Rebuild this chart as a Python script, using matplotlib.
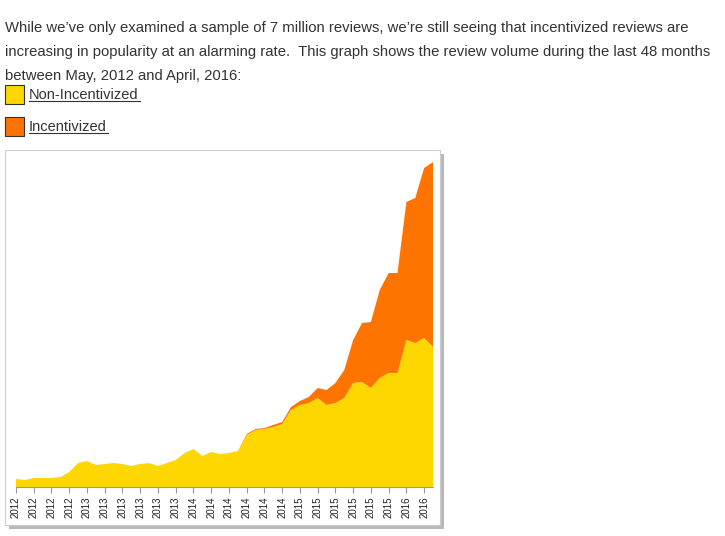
import matplotlib
matplotlib.use("Agg")
import matplotlib.pyplot as plt
from matplotlib.patches import Rectangle

months = list(range(48))
tick_labels = (["2012"] * 4 + ["2013"] * 6 + ["2014"] * 6 + ["2015"] * 6 + ["2016"] * 2)
non_incentivized = [8, 7, 9, 9, 9, 10, 15, 24, 26, 22, 23, 24, 23, 21, 23, 24,
                    21, 24, 27, 34, 38, 31, 35, 33, 34, 36, 52, 57, 58, 60, 63, 77,
                    82, 84, 89, 82, 84, 89, 104, 105, 99, 109, 114, 114, 147, 144,
                    149, 140]
incentivized = [0] * 26 + [1, 1, 1, 2, 2, 3, 4, 6, 10, 15, 20, 28, 43, 59, 66, 88,
                           100, 100, 138, 145, 170, 185]

W, H = 725, 536
fig = plt.figure(figsize=(W / 100, H / 100), dpi=100)
font = "Liberation Sans"

lines = ["While we\u2019ve only examined a sample of 7 million reviews, we\u2019re still seeing that incentivized reviews are",
         "increasing in popularity at an alarming rate.  This graph shows the review volume during the last 48 months",
         "between May, 2012 and April, 2016:"]
for k, t in enumerate(lines):
    fig.text(5 / W, 1 - (32 + 24 * k) / H, t, fontsize=10.7, family=font, color="#333333", va="baseline")

for k, (lab, col) in enumerate([("Non-Incentivized", "#FFD700"), ("Incentivized", "#FF7300")]):
    y0 = 85 + 32 * k
    fig.patches.append(Rectangle((5 / W, 1 - (y0 + 19) / H), 19 / W, 19 / H, transform=fig.transFigure,
                                 facecolor=col, edgecolor="#333333", lw=0.8))
    fig.text(29 / W, 1 - (y0 + 14) / H, lab, fontsize=10.5, family=font, color="#333333", va="baseline")
    tw = {0: 111, 1: 79}[k]
    fig.lines.append(plt.Line2D([29 / W, (29 + tw) / W], [1 - (y0 + 16) / H] * 2, transform=fig.transFigure,
                                color="#333333", lw=0.8))

# chart box with shadow
fig.patches.append(Rectangle((9 / W, 1 - 529 / H), 435 / W, 375 / H, transform=fig.transFigure,
                             facecolor="#9a9a9a", edgecolor="none", alpha=0.7, zorder=0))
fig.patches.append(Rectangle((5 / W, 1 - 525 / H), 435 / W, 375 / H, transform=fig.transFigure,
                             facecolor="white", edgecolor="#cccccc", lw=0.8, zorder=0))

ax = fig.add_axes([16 / W, 1 - 487 / H, (433 - 16) / W, (487 - 152) / H])
ax.set_zorder(5)
ax.set_xlim(0, 47)
ax.set_ylim(0, 335)
ax.stackplot(months, non_incentivized, incentivized, colors=["#FFD700", "#FF7300"], lw=0)
for s in ["top", "right", "left"]:
    ax.spines[s].set_visible(False)
ax.spines["bottom"].set_color("#999999")
ax.set_yticks([])
ax.set_xticks(months[::2])
ax.set_xticklabels(tick_labels, rotation=90, fontsize=7, family=font, color="#222222")
ax.tick_params(axis="x", length=4, color="#999999", pad=3)
ax.patch.set_visible(False)

fig.savefig("out.png", dpi=100)
